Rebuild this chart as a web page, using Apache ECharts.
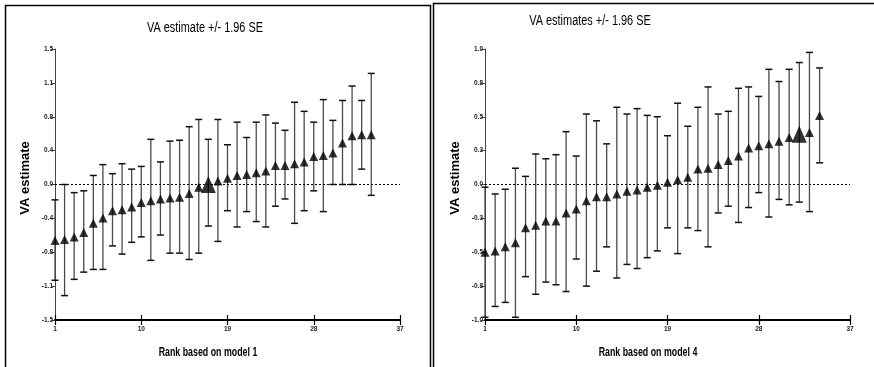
<!DOCTYPE html>
<html>
<head>
<meta charset="utf-8">
<script src="https://cdn.jsdelivr.net/npm/echarts@6/dist/echarts.min.js"></script>
<style>html,body{margin:0;padding:0;background:#fff}#c{width:874px;height:367px}</style>
</head>
<body>
<div id="c"></div>
<script>
const ranks = [1,2,3,4,5,6,7,8,9,10,11,12,13,14,15,16,17,18,19,20,21,22,23,24,25,26,27,28,29,30,31,32,33,34];

const leftEst   = [-0.62,-0.61,-0.58,-0.53,-0.43,-0.37,-0.29,-0.28,-0.25,-0.20,-0.18,-0.16,-0.15,-0.14,-0.10,-0.03,0.00,0.04,0.07,0.10,0.11,0.13,0.15,0.21,0.21,0.23,0.25,0.31,0.32,0.35,0.46,0.54,0.55,0.55];
const leftUpper = [-0.17,0.00,-0.09,-0.07,0.10,0.22,0.12,0.23,0.17,0.20,0.50,0.25,0.48,0.49,0.64,0.72,0.50,0.72,0.44,0.69,0.52,0.69,0.77,0.68,0.60,0.91,0.81,0.69,0.94,0.71,0.93,1.09,0.93,1.23];
const leftLower = [-1.06,-1.23,-1.05,-0.97,-0.94,-0.94,-0.68,-0.77,-0.64,-0.58,-0.84,-0.56,-0.76,-0.76,-0.83,-0.76,-0.46,-0.63,-0.29,-0.47,-0.30,-0.41,-0.47,-0.24,-0.16,-0.43,-0.29,-0.07,-0.30,0.00,0.00,0.00,0.17,-0.12];
const leftHighlight = 17;

const rightEst   = [-0.50,-0.49,-0.46,-0.43,-0.32,-0.30,-0.27,-0.27,-0.21,-0.18,-0.12,-0.09,-0.09,-0.07,-0.05,-0.04,-0.02,-0.005,0.017,0.035,0.054,0.114,0.12,0.148,0.178,0.21,0.27,0.286,0.30,0.32,0.346,0.37,0.383,0.51];
const rightUpper = [-0.02,-0.07,-0.035,0.12,0.06,0.225,0.19,0.22,0.39,0.21,0.52,0.47,0.30,0.57,0.52,0.56,0.51,0.50,0.36,0.60,0.43,0.57,0.72,0.52,0.54,0.71,0.72,0.65,0.85,0.76,0.85,0.90,0.975,0.86];
const rightLower = [-0.98,-0.90,-0.87,-0.98,-0.68,-0.81,-0.72,-0.74,-0.79,-0.55,-0.75,-0.64,-0.46,-0.69,-0.59,-0.62,-0.54,-0.49,-0.32,-0.51,-0.32,-0.34,-0.46,-0.21,-0.16,-0.28,-0.17,-0.06,-0.24,-0.11,-0.15,-0.13,-0.20,0.16];
const rightHighlight = 32;

const xTickValues = [1,10,19,28,37];
const leftYTickValues = [-1.5,-1.125,-0.75,-0.375,0,0.375,0.75,1.125,1.5];
const leftYTickLabels = ['-1.5','-1.1','-0.8','-0.4','0.0','0.4','0.8','1.1','1.5'];
const rightYTickValues = [-1,-0.75,-0.5,-0.25,0,0.25,0.5,0.75,1];
const rightYTickLabels = ['-1.0','-0.8','-0.5','-0.3','0.0','0.3','0.5','0.8','1.0'];

const titles = ['VA estimate +/- 1.96 SE', 'VA estimates +/- 1.96 SE'];
const yNames = ['VA estimate', 'VA estimate'];
const xNames = ['Rank based on model 1', 'Rank based on model 4'];

const tickFont = {fontFamily:'"Liberation Sans",Arial,sans-serif', fontSize:6.5, fontWeight:'bold', color:'#222'};

function labelFor(vals, labs) {
  return function (v) {
    const i = vals.findIndex(t => Math.abs(t - v) < 1e-9);
    return i >= 0 ? labs[i] : '';
  };
}

function xAxes(gi) {
  return [{
    type:'value', gridIndex:gi, min:1, max:37,
    axisLine:{show:true, onZero:false, lineStyle:{color:'#000', width:2}},
    axisTick:{show:true, length:5, customValues:xTickValues, lineStyle:{color:'#000', width:1.2}},
    axisLabel:Object.assign({show:true, margin:6, customValues:xTickValues}, tickFont),
    splitLine:{show:false}
  },{
    type:'value', gridIndex:gi, min:1, max:37, position:'bottom',
    axisLine:{show:false, onZero:false},
    axisTick:{show:true, inside:true, length:5, customValues:xTickValues, lineStyle:{color:'#000', width:1.2}},
    axisLabel:{show:false},
    splitLine:{show:false}
  }];
}

function yAxis(gi, min, max, vals, labs) {
  return {
    type:'value', gridIndex:gi, min:min, max:max,
    axisLine:{show:true, lineStyle:{color:'#444', width:1}},
    axisTick:{show:true, length:4, customValues:vals, lineStyle:{color:'#444', width:1}},
    axisLabel:Object.assign({show:true, margin:2, customValues:vals, formatter:labelFor(vals, labs)}, tickFont),
    splitLine:{show:false}
  };
}

function errData(lo, hi) { return ranks.map((r, i) => [r, lo[i], hi[i]]); }
function ptData(est) { return ranks.map((r, i) => [r, est[i]]); }

function errSeries(xi, yi, lo, hi) {
  return {
    type:'custom', xAxisIndex:xi, yAxisIndex:yi, z:2, silent:true,
    data: errData(lo, hi),
    renderItem: function (params, api) {
      const x = api.value(0);
      const a = api.coord([x, api.value(1)]);
      const b = api.coord([x, api.value(2)]);
      const w = 3.5;
      return {type:'group', children:[
        {type:'line', shape:{x1:a[0], y1:a[1], x2:b[0], y2:b[1]}, style:{stroke:'#4a4a4a', lineWidth:1.3}},
        {type:'line', shape:{x1:a[0]-w, y1:a[1], x2:a[0]+w, y2:a[1]}, style:{stroke:'#111', lineWidth:1.5}},
        {type:'line', shape:{x1:b[0]-w, y1:b[1], x2:b[0]+w, y2:b[1]}, style:{stroke:'#111', lineWidth:1.5}}
      ]};
    }
  };
}

function ptSeries(xi, yi, est, hl) {
  return {
    type:'scatter', xAxisIndex:xi, yAxisIndex:yi, z:5, silent:true,
    symbol:'triangle',
    symbolSize: function (v, p) { return ranks[p.dataIndex] === hl ? [15,17] : [9,9]; },
    itemStyle:{color:'#000'},
    data: ptData(est),
    markLine:{silent:true, symbol:'none', label:{show:false},
      lineStyle:{type:[2,2], color:'#000', width:1},
      data:[{yAxis:0}]}
  };
}

const sans = '"Liberation Sans",Arial,sans-serif';

const option = {
  animation:false,
  backgroundColor:'#fff',
  grid:[
    {left:55, top:49, width:345, height:271},
    {left:485, top:49, width:365, height:271}
  ],
  xAxis: xAxes(0).concat(xAxes(1)),
  yAxis:[
    yAxis(0, -1.5, 1.5, leftYTickValues, leftYTickLabels),
    yAxis(1, -1, 1, rightYTickValues, rightYTickLabels)
  ],
  series:[
    errSeries(0, 0, leftLower, leftUpper),
    ptSeries(0, 0, leftEst, leftHighlight),
    errSeries(2, 1, rightLower, rightUpper),
    ptSeries(2, 1, rightEst, rightHighlight)
  ],
  graphic:[
    {type:'rect', silent:true, shape:{x:5.5, y:5.5, width:425, height:420}, style:{fill:'none', stroke:'#000', lineWidth:1.5}},
    {type:'rect', silent:true, shape:{x:433.5, y:3.5, width:460, height:420}, style:{fill:'none', stroke:'#000', lineWidth:1.5}},
    {type:'text', silent:true, x:205, y:28, scaleX:0.78, style:{text:titles[0], font:'14px ' + sans, fill:'#000', align:'center', verticalAlign:'middle'}},
    {type:'text', silent:true, x:590, y:21, scaleX:0.78, style:{text:titles[1], font:'14px ' + sans, fill:'#000', align:'center', verticalAlign:'middle'}},
    {type:'text', silent:true, x:25, y:178, rotation:Math.PI/2, style:{text:yNames[0], font:'bold 13px ' + sans, fill:'#000', align:'center', verticalAlign:'middle'}},
    {type:'text', silent:true, x:455, y:178, rotation:Math.PI/2, style:{text:yNames[1], font:'bold 13px ' + sans, fill:'#000', align:'center', verticalAlign:'middle'}},
    {type:'text', silent:true, x:208, y:352, scaleX:0.68, style:{text:xNames[0], font:'bold 13px ' + sans, fill:'#000', align:'center', verticalAlign:'middle'}},
    {type:'text', silent:true, x:648, y:352, scaleX:0.68, style:{text:xNames[1], font:'bold 13px ' + sans, fill:'#000', align:'center', verticalAlign:'middle'}}
  ]
};

const chart = echarts.init(document.getElementById('c'), null, {renderer:'canvas'});
chart.setOption(option);
</script>
</body>
</html>
